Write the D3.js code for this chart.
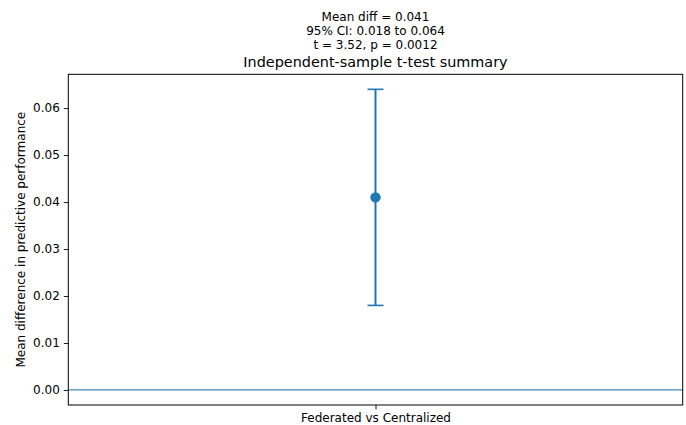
<!DOCTYPE html>
<html>
<head>
<meta charset="utf-8">
<script src="https://cdn.jsdelivr.net/npm/d3@7"></script>
<style>
  body { margin: 0; background: #fff; }
  text { font-family: "DejaVu Sans", sans-serif; fill: #000; }
</style>
</head>
<body>
<div class="chart"></div>
<script>
// data
var categories = ["Federated vs Centralized"];
var meanDiff = [0.041];
var ciLow = [0.018];
var ciHigh = [0.064];
var yTicks = [0.00, 0.01, 0.02, 0.03, 0.04, 0.05, 0.06];
var subtitleLines = ["Mean diff = 0.041", "95% CI: 0.018 to 0.064", "t = 3.52, p = 0.0012"];

var svgWidth = 686;
var svgHeight = 425;

var margin = { top: 74.3, right: 3.3, bottom: 20, left: 68.3 };
var width = svgWidth - margin.left - margin.right;
var height = 405 - margin.top;

var svg = d3.select(".chart")
  .append("svg")
  .attr("width", svgWidth)
  .attr("height", svgHeight);

var chartGroup = svg.append("g")
  .attr("transform", `translate(${margin.left}, ${margin.top})`);

// scales
var xScale = d3.scalePoint()
  .domain(categories)
  .range([0, width])
  .padding(0.5);

var yScale = d3.scaleLinear()
  .domain([-0.0032, 0.0672])
  .range([height, 0]);

// zero reference line
chartGroup.append("line")
  .attr("x1", 0)
  .attr("x2", width)
  .attr("y1", yScale(0))
  .attr("y2", yScale(0))
  .attr("stroke", "#1f77b4")
  .attr("stroke-opacity", 0.85)
  .attr("stroke-width", 1.3);

// error bars
var color = "#1f77b4";
categories.forEach(function(c, i) {
  var cx = xScale(c);
  chartGroup.append("line")
    .attr("x1", cx).attr("x2", cx)
    .attr("y1", yScale(ciLow[i])).attr("y2", yScale(ciHigh[i]))
    .attr("stroke", color).attr("stroke-width", 2);
  [ciLow[i], ciHigh[i]].forEach(function(v) {
    chartGroup.append("line")
      .attr("x1", cx - 8).attr("x2", cx + 8)
      .attr("y1", yScale(v)).attr("y2", yScale(v))
      .attr("stroke", color).attr("stroke-width", 1.6);
  });
  chartGroup.append("circle")
    .attr("cx", cx)
    .attr("cy", yScale(meanDiff[i]))
    .attr("r", 5.2)
    .attr("fill", color);
});

// axes
var leftAxis = d3.axisLeft(yScale)
  .tickValues(yTicks)
  .tickFormat(d3.format(".2f"))
  .tickSizeOuter(0)
  .tickSize(4.5)
  .tickPadding(4);

var bottomAxis = d3.axisBottom(xScale)
  .tickSizeOuter(0)
  .tickSize(4.5)
  .tickPadding(4);

var yAxisG = chartGroup.append("g").call(leftAxis);
var xAxisG = chartGroup.append("g")
  .attr("transform", `translate(0, ${height})`)
  .call(bottomAxis);

[yAxisG, xAxisG].forEach(function(g) {
  g.select(".domain").remove();
  g.selectAll("text")
    .style("font-family", "DejaVu Sans, sans-serif")
    .style("font-size", "12px")
    .attr("fill", "#000");
  g.selectAll("line").attr("stroke", "#000").attr("stroke-width", 0.9);
});

// frame
chartGroup.append("rect")
  .attr("x", 0).attr("y", 0)
  .attr("width", width).attr("height", height)
  .attr("fill", "none")
  .attr("stroke", "#000")
  .attr("stroke-width", 1);

// y axis label
chartGroup.append("text")
  .attr("transform", "rotate(-90)")
  .attr("x", -height / 2)
  .attr("y", 21 - margin.left)
  .attr("dy", "0.35em")
  .attr("text-anchor", "middle")
  .style("font-size", "12px")
  .text("Mean difference in predictive performance");

// titles
svg.selectAll(".subtitle")
  .data(subtitleLines)
  .enter()
  .append("text")
  .attr("class", "subtitle")
  .attr("x", margin.left + width / 2)
  .attr("y", (d, i) => 21 + i * 14)
  .attr("text-anchor", "middle")
  .style("font-size", "12px")
  .text(d => d);

svg.append("text")
  .attr("x", margin.left + width / 2)
  .attr("y", 67)
  .attr("text-anchor", "middle")
  .style("font-size", "14.4px")
  .text("Independent-sample t-test summary");
</script>
</body>
</html>
